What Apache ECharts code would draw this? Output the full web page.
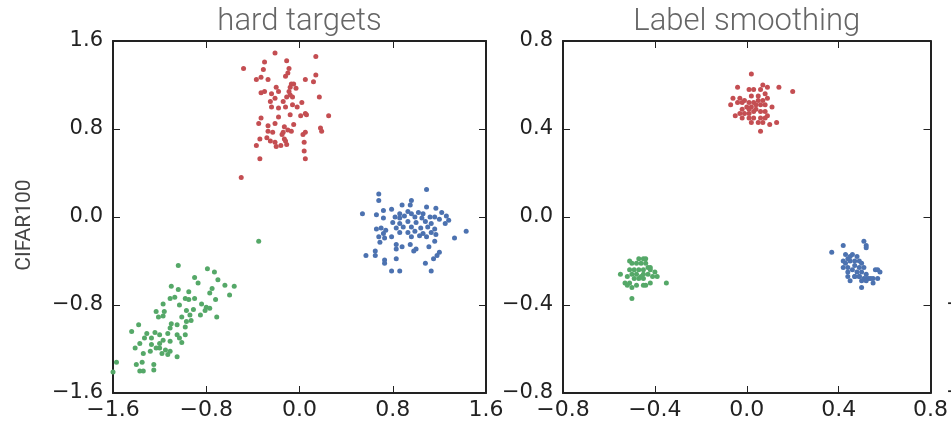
<!DOCTYPE html>
<html>
<head>
<meta charset="utf-8">
<script src="https://cdn.jsdelivr.net/npm/echarts@6/dist/echarts.min.js"></script>
<style>
  html, body { margin: 0; padding: 0; background: #fff; }
  #main { width: 951px; height: 424px; }
</style>
</head>
<body>
<div id="main"></div>
<script>
"use strict";

// panel titles / y name
let panelTitles = ["hard targets", "Label smoothing"];
let rowName = "CIFAR100";

// tick values of each panel
let hardTicks = [-1.6, -0.8, 0.0, 0.8, 1.6];
let lsTicks = [-0.8, -0.4, 0.0, 0.4, 0.8];

// hard targets: [x, y]
let hardRed = [
    [-0.21, 1.49], [-0.11, 1.42], [0.14, 1.46], [-0.30, 1.41], [-0.48, 1.35], [-0.31, 1.34],
    [-0.09, 1.35], [-0.10, 1.31], [-0.37, 1.25], [-0.33, 1.27], [-0.27, 1.25], [-0.12, 1.28],
    [0.14, 1.29], [0.05, 1.25], [0.12, 1.23], [-0.07, 1.21], [-0.05, 1.21], [-0.08, 1.18],
    [-0.20, 1.18], [-0.03, 1.17], [-0.33, 1.13], [-0.30, 1.14], [-0.24, 1.12], [-0.18, 1.14],
    [-0.09, 1.14], [-0.08, 1.11], [-0.06, 1.09], [-0.11, 1.09], [-0.21, 1.08], [-0.25, 1.05],
    [-0.14, 1.05], [0.02, 1.04], [0.17, 1.09], [-0.24, 1.00], [-0.18, 0.99], [-0.12, 1.00],
    [-0.06, 1.02], [-0.02, 1.00], [0.05, 0.94], [0.01, 0.92], [0.25, 0.92], [0.06, 0.93],
    [-0.08, 0.93], [-0.18, 0.91], [-0.33, 0.90], [-0.35, 0.85], [-0.27, 0.83], [-0.21, 0.85],
    [-0.13, 0.82], [-0.05, 0.84], [-0.10, 0.79], [-0.14, 0.77], [0.18, 0.81], [0.19, 0.78],
    [0.05, 0.77], [0.03, 0.75], [-0.27, 0.78], [-0.23, 0.77], [-0.15, 0.75], [-0.07, 0.78],
    [-0.34, 0.71], [-0.28, 0.72], [-0.25, 0.69], [-0.21, 0.68], [-0.13, 0.71], [-0.12, 0.69],
    [0.04, 0.68], [-0.37, 0.65], [-0.20, 0.64], [-0.16, 0.65], [-0.11, 0.66], [0.04, 0.60],
    [-0.34, 0.53], [0.05, 0.53], [-0.50, 0.36]
];
let hardBlue = [
    [1.09, 0.25], [0.68, 0.21], [0.68, 0.15], [0.96, 0.15], [0.88, 0.11], [0.95, 0.11],
    [1.09, 0.09], [1.17, 0.08], [0.79, 0.07], [0.72, 0.06], [0.54, 0.03], [0.66, 0.02],
    [0.86, 0.03], [0.93, 0.05], [0.96, 0.03], [1.02, 0.04], [1.06, 0.03], [1.22, 0.04],
    [1.26, 0.01], [0.72, -0.01], [0.82, 0.00], [0.86, -0.01], [0.90, 0.01], [0.99, 0.00],
    [1.05, -0.01], [1.12, 0.00], [1.16, 0.00], [1.20, -0.02], [1.28, -0.03], [0.80, -0.05],
    [0.86, -0.06], [0.93, -0.04], [1.00, -0.05], [1.08, -0.04], [1.13, -0.06], [1.25, -0.06],
    [0.66, -0.11], [0.70, -0.10], [0.74, -0.12], [0.83, -0.10], [0.89, -0.09], [0.96, -0.09],
    [1.04, -0.10], [1.10, -0.09], [1.16, -0.11], [0.72, -0.15], [0.86, -0.14], [0.93, -0.14],
    [0.99, -0.13], [1.06, -0.15], [1.13, -0.14], [1.17, -0.16], [1.43, -0.13], [0.68, -0.18],
    [0.73, -0.19], [0.79, -0.18], [0.96, -0.18], [1.03, -0.17], [1.09, -0.18], [1.33, -0.19],
    [0.69, -0.23], [0.83, -0.25], [0.88, -0.27], [0.95, -0.25], [1.16, -0.22], [1.00, -0.29],
    [0.83, -0.29], [1.11, -0.27], [0.65, -0.31], [0.65, -0.35], [0.57, -0.35], [1.20, -0.32],
    [0.98, -0.31], [0.73, -0.39], [0.73, -0.42], [0.83, -0.38], [1.15, -0.38], [1.08, -0.42],
    [0.79, -0.49], [0.86, -0.49], [1.13, -0.49], [1.18, -0.35]
];
let hardGreen = [
    [-1.04, -0.44], [-0.79, -0.47], [-0.73, -0.50], [-0.90, -0.55], [-0.70, -0.57], [-0.87, -0.60],
    [-0.64, -0.62], [-0.56, -0.63], [-1.10, -0.63], [-1.04, -0.66], [-0.95, -0.68], [-0.75, -0.65],
    [-0.77, -0.69], [-0.60, -0.71], [-1.11, -0.74], [-1.07, -0.73], [-0.98, -0.74], [-0.95, -0.75],
    [-0.90, -0.74], [-0.72, -0.75], [-1.17, -0.79], [-1.03, -0.80], [-0.84, -0.79], [-0.80, -0.82],
    [-1.23, -0.86], [-1.16, -0.86], [-0.97, -0.85], [-0.91, -0.84], [-0.77, -0.83], [-0.81, -0.85],
    [-1.21, -0.91], [-1.17, -0.90], [-1.01, -0.91], [-0.94, -0.89], [-0.85, -0.89], [-0.71, -0.91],
    [-1.38, -0.98], [-1.10, -0.97], [-1.05, -0.98], [-0.97, -0.95], [-0.93, -0.94], [-0.98, -1.00],
    [-1.11, -1.01], [-1.44, -1.04], [-1.31, -1.06], [-1.24, -1.05], [-1.20, -1.07], [-1.13, -1.06],
    [-1.05, -1.07], [-0.98, -1.07], [-1.33, -1.10], [-1.27, -1.10], [-1.17, -1.12], [-1.03, -1.10],
    [-1.37, -1.15], [-1.27, -1.16], [-1.20, -1.15], [-1.11, -1.13], [-1.01, -1.14], [-1.41, -1.19],
    [-1.20, -1.19], [-1.15, -1.21], [-1.11, -1.22], [-1.34, -1.24], [-1.28, -1.22], [-1.18, -1.24],
    [-1.13, -1.25], [-1.05, -1.27], [-1.57, -1.32], [-1.35, -1.32], [-1.40, -1.34], [-1.25, -1.34],
    [-1.37, -1.40], [-1.34, -1.40], [-1.25, -1.39], [-1.23, -1.19], [-1.60, -1.41], [-0.35, -0.22]
];

// label smoothing: [x, y]
let lsRed = [
    [0.02, 0.65], [-0.04, 0.59], [0.07, 0.60], [0.09, 0.59], [0.14, 0.59], [0.20, 0.57],
    [0.01, 0.58], [0.03, 0.58], [0.06, 0.58], [-0.06, 0.54], [-0.03, 0.54], [-0.01, 0.53],
    [0.02, 0.55], [0.05, 0.55], [0.08, 0.56], [-0.07, 0.51], [-0.04, 0.52], [-0.02, 0.52],
    [0.01, 0.52], [0.03, 0.52], [0.05, 0.53], [0.07, 0.53], [0.09, 0.54], [0.11, 0.50],
    [-0.02, 0.49], [0.00, 0.50], [0.02, 0.50], [0.04, 0.51], [0.06, 0.51], [0.08, 0.51],
    [-0.05, 0.46], [-0.03, 0.47], [-0.01, 0.47], [0.01, 0.47], [0.03, 0.48], [0.06, 0.48],
    [0.08, 0.48], [0.09, 0.46], [-0.02, 0.45], [0.01, 0.45], [0.03, 0.45], [0.06, 0.45],
    [0.08, 0.45], [0.02, 0.43], [0.05, 0.43], [0.07, 0.43], [0.10, 0.42], [0.13, 0.43],
    [0.06, 0.39], [0.04, 0.49], [0.01, 0.49]
];
let lsGreen = [
    [-0.45, -0.19], [-0.47, -0.19], [-0.44, -0.19], [-0.50, -0.21], [-0.48, -0.21], [-0.46, -0.21],
    [-0.44, -0.21], [-0.42, -0.23], [-0.51, -0.24], [-0.49, -0.24], [-0.47, -0.24], [-0.45, -0.24],
    [-0.42, -0.24], [-0.40, -0.25], [-0.55, -0.26], [-0.50, -0.26], [-0.48, -0.26], [-0.45, -0.26],
    [-0.43, -0.26], [-0.41, -0.27], [-0.39, -0.27], [-0.52, -0.27], [-0.49, -0.28], [-0.47, -0.28],
    [-0.45, -0.28], [-0.42, -0.30], [-0.53, -0.30], [-0.51, -0.30], [-0.48, -0.31], [-0.45, -0.31],
    [-0.50, -0.32], [-0.35, -0.30], [-0.50, -0.37], [-0.52, -0.31], [-0.44, -0.31], [-0.46, -0.27],
    [-0.51, -0.20], [-0.43, -0.23]
];
let lsBlue = [
    [0.51, -0.11], [0.52, -0.13], [0.52, -0.14], [0.42, -0.13], [0.37, -0.16], [0.42, -0.20],
    [0.44, -0.19], [0.43, -0.21], [0.45, -0.20], [0.47, -0.20], [0.49, -0.20], [0.50, -0.21],
    [0.42, -0.23], [0.44, -0.23], [0.47, -0.22], [0.49, -0.23], [0.51, -0.23], [0.44, -0.25],
    [0.46, -0.24], [0.48, -0.25], [0.50, -0.25], [0.52, -0.26], [0.56, -0.24], [0.57, -0.24],
    [0.58, -0.25], [0.44, -0.27], [0.47, -0.27], [0.49, -0.27], [0.51, -0.28], [0.53, -0.28],
    [0.47, -0.27], [0.49, -0.27], [0.52, -0.28], [0.55, -0.28], [0.54, -0.28], [0.50, -0.29],
    [0.52, -0.29], [0.55, -0.30], [0.50, -0.32], [0.57, -0.28], [0.45, -0.29],
    [0.43, -0.17], [0.46, -0.17], [0.48, -0.18], [0.45, -0.18]
];

let red = '#c44e52';
let blue = '#4c72b0';
let green = '#55a868';

let tickFont = 'DejaVu Sans';

function fmt(v) {
    if (Math.abs(v) < 1e-9) return '0.0';
    return v.toFixed(1).replace('-', '\u2212');
}

// 一个面板 = 下/上 x 轴 + 左/右 y 轴，组成方框
function boxAxes(gi, ticks, title, yName) {
    let min = ticks[0], max = ticks[ticks.length - 1], step = ticks[1] - ticks[0];
    let line = {show: true, onZero: false, lineStyle: {color: '#222', width: 2}};
    let tick = {show: true, inside: true, length: 7, lineStyle: {color: '#222', width: 1}};
    let label = {
        show: true, formatter: fmt, fontFamily: tickFont, fontSize: 22, color: '#222',
        showMinLabel: true, showMaxLabel: true, margin: 6
    };
    let base = {gridIndex: gi, type: 'value', min: min, max: max, interval: step,
        splitLine: {show: false}, axisLine: line, axisTick: tick};
    let xb = Object.assign({}, base, {position: 'bottom', axisLabel: label});
    let xt = Object.assign({}, base, {position: 'top', axisLabel: {show: false},
        name: title, nameLocation: 'middle', nameGap: 3,
        nameTextStyle: {fontFamily: 'Roboto', fontWeight: 300, fontSize: 31, color: '#666'}});
    let yl = Object.assign({}, base, {position: 'left',
        axisLabel: Object.assign({}, label, {fontSize: 21, margin: 10})});
    if (yName) {
        yl.name = yName;
        yl.nameLocation = 'middle';
        yl.nameGap = 78;
        yl.nameTextStyle = {fontFamily: 'Roboto', fontSize: 21, color: '#444', padding: [0, 16, 0, 0]};
    }
    let yr = Object.assign({}, base, {position: 'right', axisLabel: {show: false}});
    return {x: [xb, xt], y: [yl, yr]};
}

let p0 = boxAxes(0, hardTicks, panelTitles[0], rowName);
let p1 = boxAxes(1, lsTicks, panelTitles[1], null);
let p2 = boxAxes(2, lsTicks, '', null); // 右侧被截掉的第三个面板

function scatter(gi, data, color) {
    return {
        type: 'scatter', xAxisIndex: gi * 2, yAxisIndex: gi * 2, data: data,
        symbol: 'circle', symbolSize: 5, itemStyle: {color: color, opacity: 1},
        silent: true, animation: false
    };
}

let myChart = echarts.init(document.getElementById('main'), null, {renderer: 'canvas'});
myChart.setOption({
    animation: false,
    grid: [
        {left: 113, top: 41, width: 373, height: 352},
        {left: 563, top: 41, width: 371, height: 352},
        {left: 1007, top: 41, width: 371, height: 352}
    ],
    xAxis: p0.x.concat(p1.x, p2.x),
    yAxis: p0.y.concat(p1.y, p2.y),
    series: [
        scatter(0, hardRed, red),
        scatter(0, hardBlue, blue),
        scatter(0, hardGreen, green),
        scatter(1, lsRed, red),
        scatter(1, lsGreen, green),
        scatter(1, lsBlue, blue)
    ]
});
</script>
</body>
</html>
